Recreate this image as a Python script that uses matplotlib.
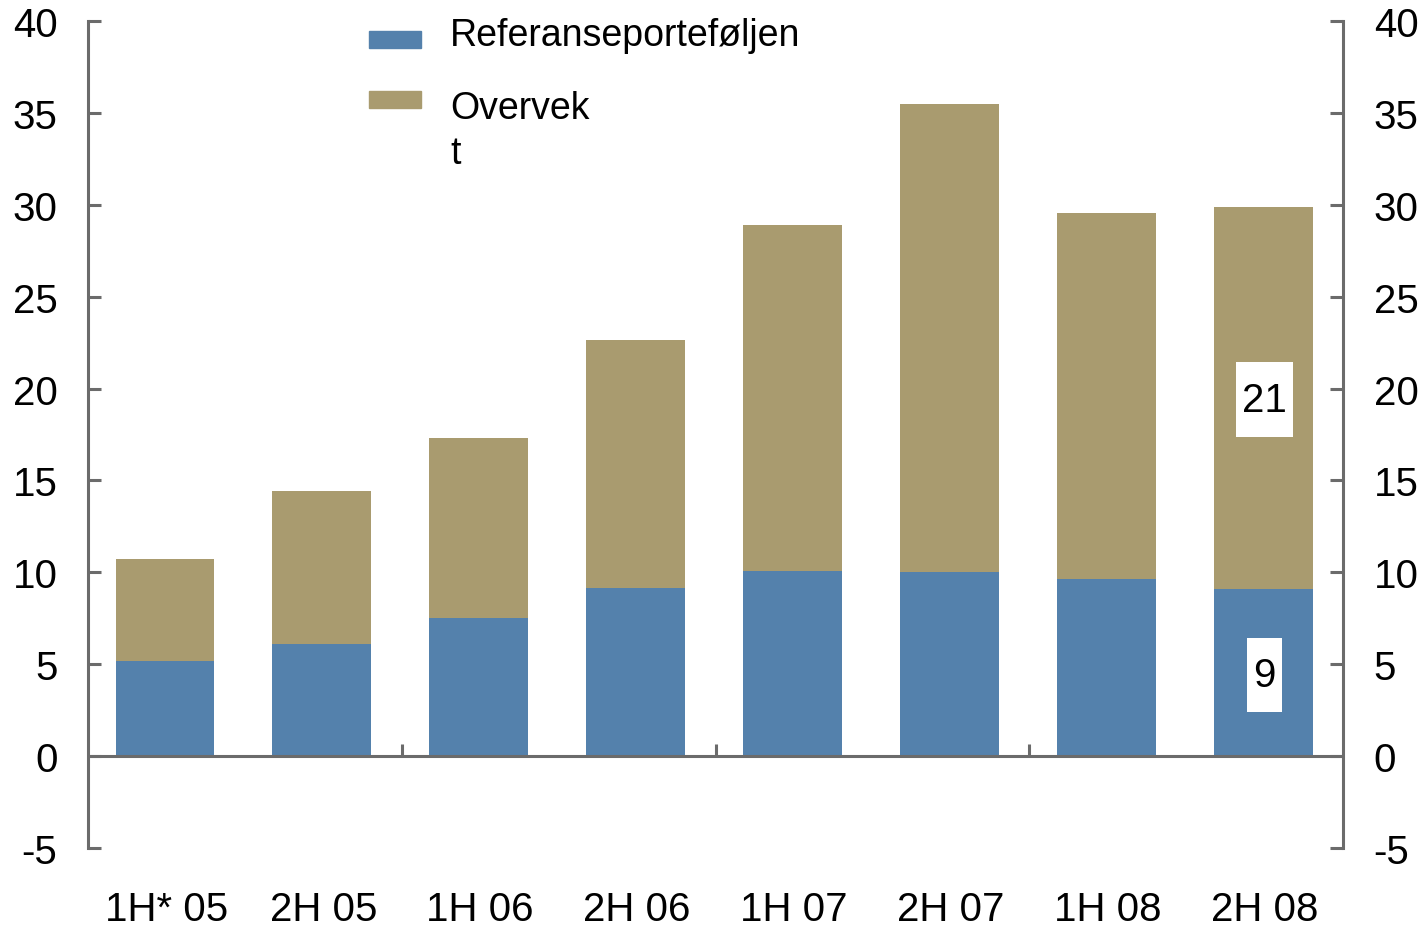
import matplotlib
matplotlib.use('Agg')
import matplotlib.pyplot as plt
from matplotlib.patches import Rectangle

# Data
categories = ['1H* 05', '2H 05', '1H 06', '2H 06', '1H 07', '2H 07', '1H 08', '2H 08']
referanse = [5.2, 6.1, 7.5, 9.15, 10.1, 10.0, 9.65, 9.1]
overvekt = [5.5, 8.3, 9.8, 13.5, 18.8, 25.5, 19.9, 20.8]
yticks = [-5, 0, 5, 10, 15, 20, 25, 30, 35, 40]
year_breaks = [1.5, 3.5, 5.5]

blue = '#5481ac'
tan = '#a99b6f'
grey = '#6b6b6b'

plt.rcParams['font.family'] = ['Liberation Sans', 'DejaVu Sans']

fig = plt.figure(figsize=(14.27, 9.29), dpi=100)
ax = fig.add_axes([0.0617, 0.0861, 0.8795, 0.8902])

x = range(len(categories))
ax.bar([i - 0.01 for i in x], referanse, width=0.63, color=blue, zorder=2)
ax.bar([i - 0.01 for i in x], overvekt, width=0.63, bottom=referanse, color=tan, zorder=2)

ax.set_xlim(-0.5, 7.5)
ax.set_ylim(-5, 40)
ax.set_yticks(yticks)
ax.set_yticklabels([str(v) for v in yticks])
ax.set_xticks(list(x))
ax.set_xticklabels(categories)

# zero line with year separators
ax.axhline(0, color=grey, lw=2.2, zorder=3)
ax.vlines(year_breaks, 0, 0.65, color=grey, lw=2.2, zorder=3)

for s in ['top', 'bottom']:
    ax.spines[s].set_visible(False)
for s in ['left', 'right']:
    ax.spines[s].set_color(grey)
    ax.spines[s].set_linewidth(2.2)

ax.tick_params(axis='y', direction='in', length=9.5, width=2.2, color=grey,
               labelsize=29, pad=22, left=True, right=True,
               labelleft=True, labelright=True)
ax.tick_params(axis='x', length=0, labelsize=29, pad=30)

# value labels on last bar
box = dict(boxstyle='square,pad=0.15', facecolor='white', edgecolor='none',
           mutation_aspect=3.0)
ax.text(7, 19.4, '21', ha='center', va='center', fontsize=29, bbox=box, zorder=4)
ax.text(7, 4.4, '9', ha='center', va='center', fontsize=29, bbox=box, zorder=4)

# legend drawn by hand
ax.add_patch(Rectangle((0.2239, 0.9674), 0.0414, 0.0205, transform=ax.transAxes,
                       color=blue, clip_on=False))
ax.add_patch(Rectangle((0.2239, 0.8948), 0.0414, 0.0206, transform=ax.transAxes,
                       color=tan, clip_on=False))
ax.text(0.2884, 0.983, 'Referanseporteføljen', transform=ax.transAxes,
        fontsize=27, va='center', ha='left')
ax.text(0.2884, 0.916, 'Overvek\nt', transform=ax.transAxes,
        fontsize=27, va='top', ha='left', linespacing=1.32)

fig.savefig('out.png', dpi=100)
